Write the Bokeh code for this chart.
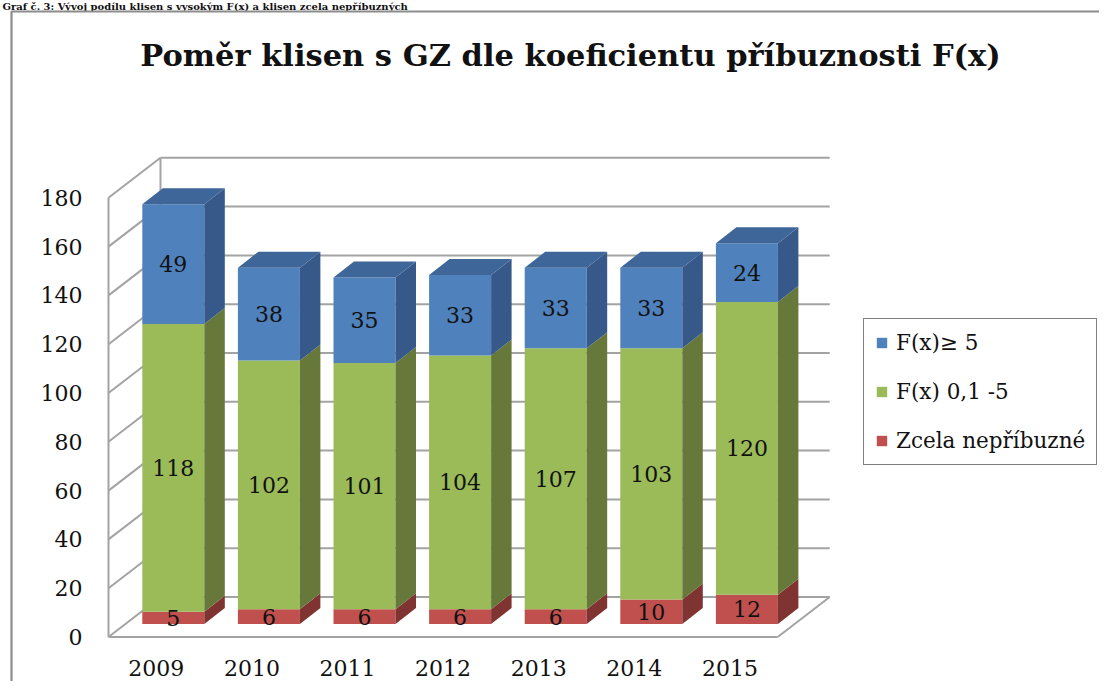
import numpy as np
from bokeh.plotting import figure
from bokeh.models import Range1d, FixedTicker, Legend, LegendItem, LinearAxis
from bokeh.embed import file_html
from bokeh.resources import INLINE
from bokeh.core.properties import value

# ---------------- data ----------------
years = ["2009", "2010", "2011", "2012", "2013", "2014", "2015"]
zcela_nepribuzne = [5, 6, 6, 6, 6, 10, 12]
fx_01_5 = [118, 102, 101, 104, 107, 103, 120]
fx_ge_5 = [49, 38, 35, 33, 33, 33, 24]
series_labels = ["Zcela nepříbuzné", "F(x) 0,1 -5", "F(x)≥ 5"]
y_ticks = [0, 20, 40, 60, 80, 100, 120, 140, 160, 180]
title_text = "Poměr klisen s GZ dle koeficientu příbuznosti F(x)"
caption_text = "Graf č. 3: Vývoj podílu klisen s vysokým F(x) a klisen zcela nepříbuzných"

# ---------------- styling / geometry ----------------
FONT = "DejaVu Serif"
front_cols = ["#C0504D", "#9BBB59", "#4F81BD"]
side_cols = ["#7F3432", "#66793A", "#36598A"]
top_col = "#3F6698"
grid_col = "#a3a3a3"
border_col = "#8c8c8c"

W, H = 1099, 681
X_ORIGIN, Y_ORIGIN = 108, 636.5  # canvas px of the front-left floor corner
SX, SY = 95.6, 2.44              # px per category, px per value unit
DXF, DYF = 52 / SX, 40 / SY      # depth of the whole box
OX, OY = 17 / SX, 13 / SY        # bar front plane offset
BW = 62 / SX                     # bar width
BDX, BDY = 20.5 / SX, 16 / SY    # bar depth


def dx(px):
    return (px - X_ORIGIN) / SX


def dy(py):
    return (Y_ORIGIN - py) / SY


p = figure(width=W, height=H, output_backend="svg", toolbar_location=None,
           x_range=Range1d(dx(0), dx(W)), y_range=Range1d(dy(H), dy(0)),
           min_border=0, x_axis_location=None, y_axis_location=None)
p.outline_line_color = None
p.grid.visible = False
p.background_fill_color = "white"
p.border_fill_color = "white"

# page caption above the chart
p.text([dx(2)], [dy(0)], text=[caption_text], text_font=value(FONT),
       text_font_size="10px", text_font_style="bold", text_align="left",
       text_baseline="top", text_color="#111111")

# chart-area border (left and top edges visible)
p.line([dx(11), dx(11), dx(W + 10)], [dy(H + 10), dy(11), dy(11)],
       line_color=border_col, line_width=2.2)

n = len(years)
idx = np.arange(n)

# walls and floor
xs, ys = [], []
ymax = y_ticks[-1]
for t in y_ticks:
    xs.append([DXF, n + DXF]); ys.append([t + DYF, t + DYF])   # back wall
    xs.append([0, DXF]); ys.append([t, t + DYF])               # left wall
xs.append([0, 0]); ys.append([0, ymax])
xs.append([DXF, DXF]); ys.append([DYF, ymax + DYF])
xs.append([0, n]); ys.append([0, 0])
xs.append([n, n + DXF]); ys.append([0, DYF])
p.multi_line(xs, ys, line_color=grid_col, line_width=2)

# bars
xl = idx + OX + (1 - BW) / 2
xr = xl + BW
series = [zcela_nepribuzne, fx_01_5, fx_ge_5]
bottom = np.zeros(n)
legend_items = []
lab_x, lab_y, lab_t = [], [], []
for s, vals in enumerate(series):
    vals = np.array(vals, dtype=float)
    top = bottom + vals
    r = p.quad(left=xl, right=xr, bottom=bottom + OY, top=top + OY,
               fill_color=front_cols[s], line_color=None)
    legend_items.append((series_labels[s], r))
    sx_ = [[a, a + BDX, a + BDX, a] for a in xr]
    sy_ = [[b + OY, b + OY + BDY, t + OY + BDY, t + OY] for b, t in zip(bottom, top)]
    p.patches(sx_, sy_, fill_color=side_cols[s], line_color=None)
    for i in range(n):
        lab_x.append((xl[i] + xr[i]) / 2)
        lab_y.append(bottom[i] + vals[i] / 2 + OY)
        lab_t.append(str(int(vals[i])))
    bottom = top

tx = [[a, a + BDX, b + BDX, b] for a, b in zip(xl, xr)]
ty = [[t + OY, t + OY + BDY, t + OY + BDY, t + OY] for t in bottom]
p.patches(tx, ty, fill_color=top_col, line_color=None)

p.text(lab_x, lab_y, text=lab_t, text_font=value(FONT), text_font_size="22px",
       text_align="center", text_baseline="middle", text_color="#111111")

# title
p.text([dx(570)], [dy(54)], text=[title_text], text_font=value(FONT),
       text_font_size="30.5px", text_font_style="bold", text_align="center",
       text_baseline="middle", text_color="#111111")

# axes at fixed locations inside the frame
yax = LinearAxis(fixed_location=0, ticker=FixedTicker(ticks=y_ticks))
xax = LinearAxis(fixed_location=0, ticker=FixedTicker(ticks=[float(i) + 0.5 for i in idx]))
xax.major_label_overrides = {float(i) + 0.5: y for i, y in zip(idx, years)}
for ax in (xax, yax):
    ax.axis_line_color = None
    ax.major_tick_line_color = None
    ax.minor_tick_line_color = None
    ax.major_tick_out = 0
    ax.major_tick_in = 0
    ax.minor_tick_out = 0
    ax.major_label_text_font = FONT
    ax.major_label_text_font_size = "22px"
    ax.major_label_text_color = "#111111"
yax.major_label_standoff = 26
xax.major_label_standoff = 23
p.add_layout(yax, "left")
p.add_layout(xax, "below")

legend = Legend(items=[LegendItem(label=l, renderers=[r]) for l, r in reversed(legend_items)],
                location=(863, H - 465), glyph_width=13, glyph_height=13,
                label_text_font=FONT, label_text_font_size="21.5px", label_text_color="#111111",
                label_standoff=8, label_height=24, spacing=24, padding=11, margin=0,
                border_line_color="black", border_line_width=1.6,
                background_fill_color="white", background_fill_alpha=1)
p.add_layout(legend, "center")

open("out.html", "w").write(file_html(p, INLINE))
